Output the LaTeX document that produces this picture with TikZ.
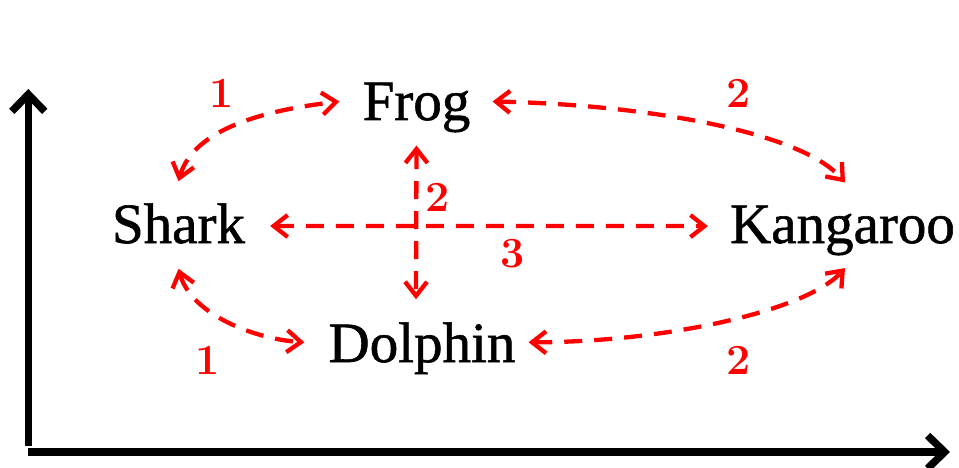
\documentclass[tikz,border=0pt]{standalone}
\usepackage{fontspec}
\newfontfamily\animalfont[FakeBold=1]{Liberation Serif}
\usetikzlibrary{arrows.meta,calc}
\begin{document}
\begin{tikzpicture}[x=1pt,y=1pt,
  animal/.style={font=\animalfont\fontsize{57}{60}\selectfont, inner sep=0pt, anchor=base},
  weight/.style={font=\fontsize{43}{45}\selectfont\bfseries\addfontfeatures{FakeBold=1.8},
    text=red, inner sep=0pt},
  barb/.tip={Straight Barb[length=14pt,width=22pt]},
  link/.style={draw=red, line width=4.3pt, dash pattern=on 18pt off 12pt, barb-barb},
  axis/.style={draw=black, line width=7.5pt,
    -{Straight Barb[length=17pt,width=33pt]}}]
\useasboundingbox (0,0) rectangle (959,467);

% axes
\coordinate (yfoot) at (28.3,21.3);
\coordinate (ytop)  at (28.3,378);
\coordinate (xfoot) at (28.3,15);
\coordinate (xtip)  at (950,15);
\draw[axis] (yfoot) -- (ytop);
\draw[axis] (xfoot) -- (xtip);

% animals
\node[animal] (frog)     at (416.5,347) {Frog};
\node[animal] (shark)    at (178.5,224) {Shark};
\node[animal] (kangaroo) at (842.5,224) {Kangaroo};
\node[animal] (dolphin)  at (422,105)   {Dolphin};

% links
\draw[link] ([yshift=22pt]shark.north)
  .. controls +(16pt,57pt) and +(-60pt,-7pt) .. ([shift={(-23pt,6pt)}]frog.west);
\draw[link] ([shift={(22pt,6pt)}]frog.east)
  .. controls +(148pt,-3pt) and +(-45pt,52pt) .. ([shift={(2.5pt,23pt)}]kangaroo.north);
\draw[link] ([shift={(25pt,-2.5pt)}]shark.east) -- ([shift={(-22pt,4.4pt)}]kangaroo.west);
\draw[link] ([yshift=-13pt]frog.south) -- ([shift={(-6pt,23pt)}]dolphin.north);
\draw[link] ([yshift=-25pt]shark.south)
  .. controls +(13pt,-47pt) and +(-47pt,3pt) .. ([shift={(-24pt,6pt)}]dolphin.west);
\draw[link] ([shift={(13pt,6pt)}]dolphin.east)
  .. controls +(132pt,0pt) and +(-40pt,-44pt) .. ([shift={(2.5pt,-12.6pt)}]kangaroo.south);

% weights
\node[weight] (w1) at (222,374) {1};
\node[weight] (w2) at (739,374) {2};
\node[weight] (w3) at (438,270) {2};
\node[weight] (w4) at (513,213) {3};
\node[weight] (w5) at (208,107) {1};
\node[weight] (w6) at (739,107) {2};
\end{tikzpicture}
\end{document}
